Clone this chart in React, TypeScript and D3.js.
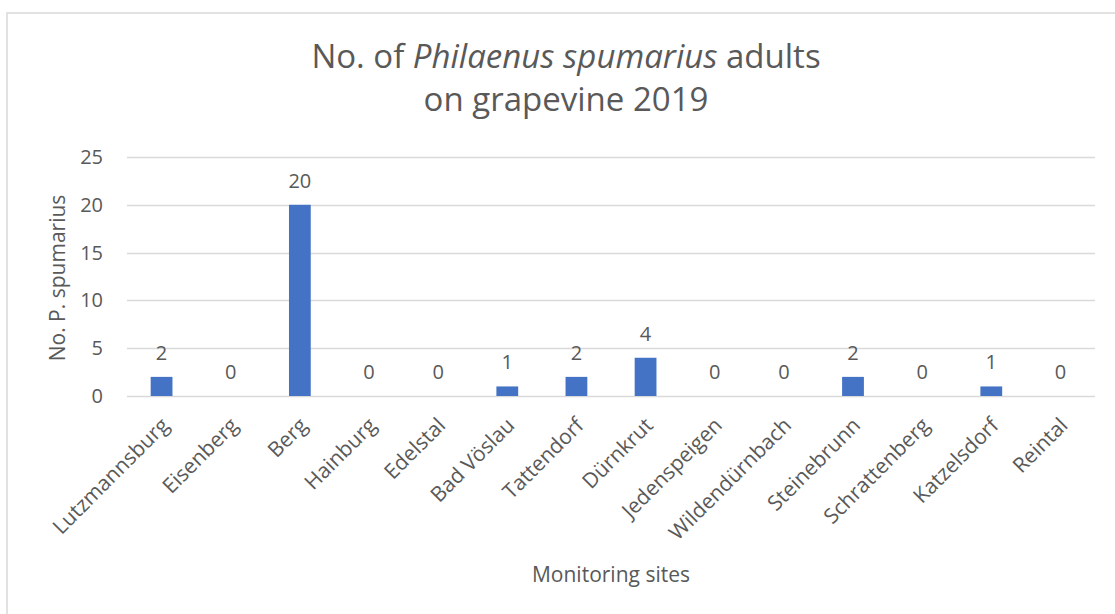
import React from "react";
import * as d3 from "d3";

const sites = [
  "Lutzmannsburg", "Eisenberg", "Berg", "Hainburg", "Edelstal", "Bad Vöslau",
  "Tattendorf", "Dürnkrut", "Jedenspeigen", "Wildendürnbach", "Steinebrunn",
  "Schrattenberg", "Katzelsdorf", "Reintal",
];
const counts = [2, 0, 20, 0, 0, 1, 2, 4, 0, 0, 2, 0, 1, 0];
const yTicks = [0, 5, 10, 15, 20, 25];

const W = 1115;
const H = 614;
const plot = { left: 127, right: 1095, top: 157, bottom: 396 };
const FONT = "'Open Sans', 'Liberation Sans', sans-serif";
const TEXT = "#595959";
const GRID = "#d9d9d9";
const BAR = "#4472C4";

export default function App() {
  const x = d3.scaleBand<string>().domain(sites).range([plot.left, plot.right]).paddingInner(0.685).paddingOuter(0.3425);
  const y = d3.scaleLinear().domain([0, 25]).range([plot.bottom, plot.top]);
  const bw = x.bandwidth();
  const cx = (s: string) => (x(s) as number) + bw / 2;

  return (
    <svg width={W} height={H} style={{ position: "absolute", left: 0, top: 0, background: "#fff" }} fontFamily={FONT}>
      <rect x={7} y={13} width={1130} height={620} fill="#fff" stroke={GRID} strokeWidth={1.5} />
      <text x={566} y={68} textAnchor="middle" fontSize={33} fill={TEXT}>
        No. of <tspan fontStyle="italic">Philaenus spumarius</tspan> adults
      </text>
      <text x={566} y={111} textAnchor="middle" fontSize={33} fill={TEXT}>
        on grapevine 2019
      </text>
      {yTicks.map((t) => (
        <g key={t}>
          <line x1={plot.left} x2={plot.right} y1={Math.round(y(t)) + 0.5} y2={Math.round(y(t)) + 0.5} stroke={GRID} strokeWidth={1.3} />
          <text x={103} y={y(t)} dy="0.35em" textAnchor="end" fontSize={20} fill={TEXT}>{t}</text>
        </g>
      ))}
      {sites.map((s, i) => (
        <g key={s}>
          <rect x={x(s)} y={y(counts[i])} width={bw} height={y(0) - y(counts[i])} fill={BAR} />
          <text x={cx(s)} y={y(counts[i]) - 17} textAnchor="middle" fontSize={20} fill={TEXT}>{counts[i]}</text>
          <text
            transform={`translate(${cx(s) + 3},${421}) rotate(-45)`}
            textAnchor="end"
            dominantBaseline="central"
            fontSize={21}
            fill={TEXT}
          >
            {s}
          </text>
        </g>
      ))}
      <text transform={`translate(57,278) rotate(-90)`} textAnchor="middle" dominantBaseline="central" fontSize={21} fill={TEXT}>
        No. P. spumarius
      </text>
      <text x={611} y={582} textAnchor="middle" fontSize={21} fill={TEXT}>
        Monitoring sites
      </text>
    </svg>
  );
}
